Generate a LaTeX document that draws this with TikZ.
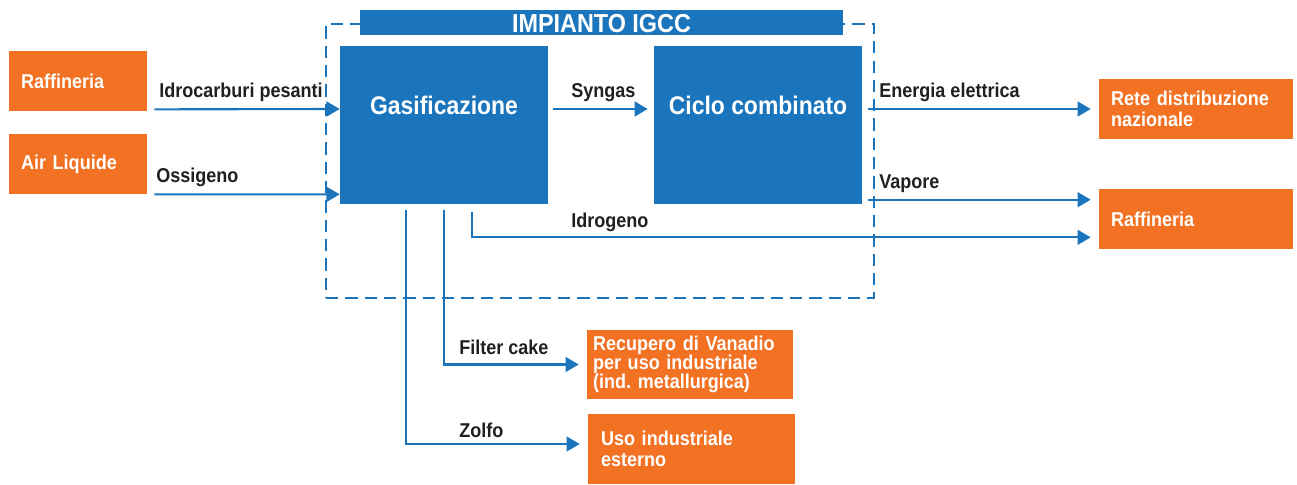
\documentclass[tikz,border=0pt]{standalone}
\usepackage{fontspec}
\setmainfont{Liberation Sans}[FakeStretch=0.9]
\usepackage{tikz}
\usetikzlibrary{arrows.meta}
\definecolor{igccblue}{RGB}{27,117,188}
\definecolor{igccorange}{RGB}{242,113,35}
\definecolor{inkblack}{RGB}{35,31,32}
\tikzset{
	framestyle/.style={rectangle,draw=igccblue,line width=0.7pt,dash pattern=on 7pt off 4pt,minimum width=10.96cm,minimum height=5.48cm,inner sep=0pt},
	titlestyle/.style={rectangle,fill=igccblue,text=white,minimum width=9.66cm,text height=0.38cm,text depth=0pt,inner ysep=0.06cm,font=\fontsize{14.8}{16}\selectfont},
	plantstyle/.style={rectangle,fill=igccblue,text=white,inner sep=0pt,minimum width=4.16cm,text height=1.36cm,text depth=1.8cm,font=\fontsize{14.5}{16}\selectfont},
	sitestyle/.style={rectangle,fill=igccorange,text=white,inner xsep=0.24cm,inner ysep=0pt,align=left,font=\fontsize{11.4}{12.3}\selectfont},
	labelstyle/.style={anchor=base west,inner sep=0pt,text=inkblack,font=\fontsize{11.4}{12.3}\selectfont},
	flowstyle/.style={draw=igccblue,line width=1.2pt,-{Triangle[length=7.5pt,width=8.5pt]}}
}
\begin{document}
\begin{tikzpicture}[x=0.02cm,y=-0.02cm]
	\bfseries
	\useasboundingbox (0,0) rectangle (1297,484);
	\node[framestyle] (igcc) at (600,161) {};
	\node[titlestyle] (title) at (601.5,22.5) {IMPIANTO IGCC};
	\node[sitestyle,text width=2.28cm,minimum height=1.2cm] (raffin) at (78,81) {Raffineria};
	\node[sitestyle,text width=2.28cm,minimum height=1.2cm] (airliq) at (78,164) {Air Liquide};
	\node[plantstyle] (gasif) at (444,125) {Gasificazione};
	\node[plantstyle] (ciclo) at (758,125) {Ciclo combinato};
	\node[sitestyle,text width=3.4cm,minimum height=1.2cm] (rete) at (1196,109) {Rete distribuzione\\nazionale};
	\node[sitestyle,text width=3.4cm,minimum height=1.2cm] (raffout) at (1196,219) {Raffineria};
	\node[sitestyle,inner xsep=0.12cm,text width=3.88cm,minimum height=1.38cm,font=\fontsize{11.4}{10.9}\selectfont] (recup) at (690,364.5) {Recupero di Vanadio\\per uso industriale\\(ind.\ metallurgica)};
	\node[sitestyle,inner xsep=0.26cm,text width=3.62cm,minimum height=1.4cm] (uso) at (691.5,449) {Uso industriale\\esterno};
	\node[labelstyle] (lidro) at (159,97) {Idrocarburi pesanti};
	\node[labelstyle] (loss) at (156,182) {Ossigeno};
	\node[labelstyle] (lsyn) at (571,97) {Syngas};
	\node[labelstyle] (lene) at (879,97) {Energia elettrica};
	\node[labelstyle] (lvap) at (879,188) {Vapore};
	\node[labelstyle] (lidg) at (571,227) {Idrogeno};
	\node[labelstyle] (lfil) at (459,354) {Filter cake};
	\node[labelstyle] (lzol) at (459,437) {Zolfo};
	\draw[flowstyle] ([shift={(7,-2)}]raffin.south east) -- ([shift={(0,-16)}]gasif.west);
	\draw[flowstyle] ([shift={(7,0)}]airliq.south east) -- ([shift={(0,-10)}]gasif.south west);
	\draw[flowstyle] ([shift={(5,-16)}]gasif.east) -- ([shift={(-6,-16)}]ciclo.west);
	\draw[flowstyle] ([shift={(6,0)}]ciclo.east |- rete.west) -- ([shift={(-8,0)}]rete.west);
	\draw[flowstyle] ([shift={(6,11)}]ciclo.east |- raffout.north) -- ([shift={(-8,11)}]raffout.north west);
	\draw[flowstyle] ([shift={(132,8)}]gasif.south west) |- ([shift={(-8,-12)}]raffout.south west);
	\draw[flowstyle] ([shift={(0,6)}]gasif.south) |- ([shift={(-8,0)}]recup.west);
	\draw[flowstyle] ([shift={(66,6)}]gasif.south west) |- ([shift={(-8,-5)}]uso.west);
\end{tikzpicture}
\end{document}
